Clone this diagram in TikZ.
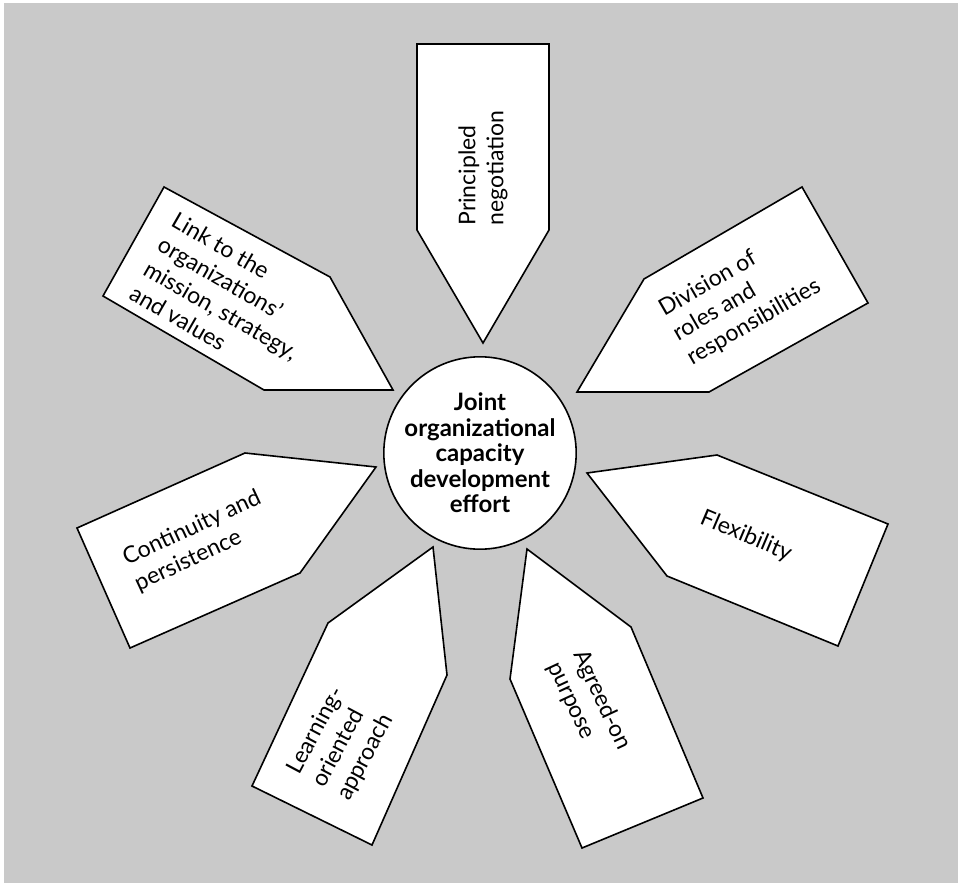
\documentclass[tikz,border=0pt]{standalone}
\usepackage{fontspec}
\setmainfont{Lato}
\definecolor{panelgray}{RGB}{201,201,201}

\begin{document}
\begin{tikzpicture}[x=0.5pt, y=-0.5pt,
    petal/.style={draw=black, fill=white, line width=0.8pt, line join=miter},
    petaltext/.style={align=left, inner sep=0pt, font=\fontsize{11.5}{14}\selectfont},
    hub/.style={circle, draw=black, fill=white, line width=0.8pt, minimum size=93pt,
                inner sep=0pt, align=center, font=\bfseries\fontsize{12}{12.75}\selectfont}]
    % background
    \fill[white] (0,0) rectangle (958,883);
    \fill[panelgray] (4,3) rectangle (958,883);
    \useasboundingbox (0,0) rectangle (958,883);

    % the seven arrows
    \draw[petal] (417,44) -- (549,44) -- (549,230) -- (483,343) -- (417,230) -- cycle;
    \draw[petal] (802,187) -- (868,303) -- (709,392) -- (577,392) -- (644,279) -- cycle;
    \draw[petal] (587,473) -- (717,455) -- (888,524) -- (838,646) -- (667,576) -- cycle;
    \draw[petal] (527,549) -- (631,627) -- (703,798) -- (582,848) -- (510,679) -- cycle;
    \draw[petal] (433,547) -- (447,675) -- (372,845) -- (252,786) -- (328,623) -- cycle;
    \draw[petal] (77,528) -- (245,453) -- (376,467) -- (300,573) -- (130,648) -- cycle;
    \draw[petal] (164,187) -- (330,277) -- (393,390) -- (264,390) -- (103,296) -- cycle;

    \node[hub] (effort) at (480,453) {Joint\\organizational\\capacity\\development\\effort};

    \node[petaltext, rotate=90] (negotiation) at (483,168) {Principled\\negotiation};
    \node[petaltext, rotate=30] (roles) at (740,298) {Division of\\roles and\\responsibilities};
    \node[petaltext, rotate=-23] (flexibility) at (746,536) {Flexibility};
    \node[petaltext, rotate=-65] (purpose) at (589,706) {Agreed-on\\purpose};
    \node[petaltext, rotate=62] (learning) at (341,744) {Learning-\\oriented\\approach};
    \node[petaltext, rotate=25] (continuity) at (198,541) {Continuity and\\persistence};
    \node[petaltext, rotate=-30] (mission) at (228,298) {Link to the\\organizations'\\mission, strategy,\\and values};
\end{tikzpicture}
\end{document}
